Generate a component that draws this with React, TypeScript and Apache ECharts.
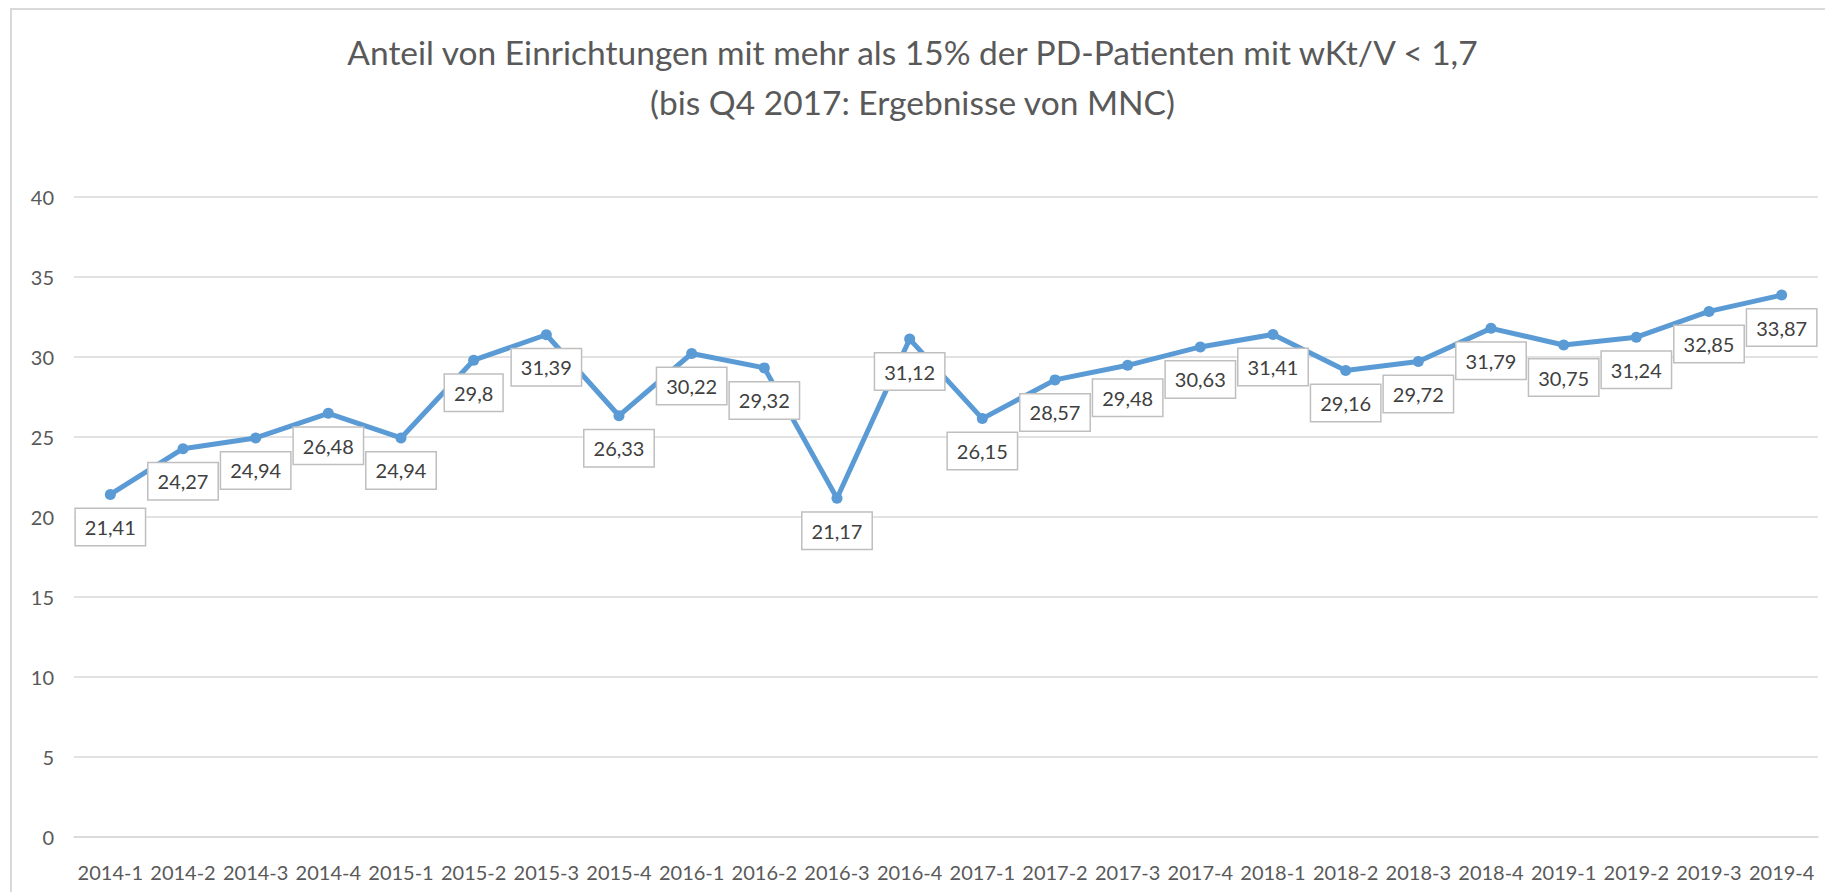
import React, { useEffect, useRef } from "react";
import * as echarts from "echarts";

const titleLines = [
  "Anteil von Einrichtungen mit mehr als 15% der PD-Patienten mit wKt/V < 1,7",
  "(bis Q4 2017: Ergebnisse von MNC)",
];

const categories = [
  "2014-1", "2014-2", "2014-3", "2014-4",
  "2015-1", "2015-2", "2015-3", "2015-4",
  "2016-1", "2016-2", "2016-3", "2016-4",
  "2017-1", "2017-2", "2017-3", "2017-4",
  "2018-1", "2018-2", "2018-3", "2018-4",
  "2019-1", "2019-2", "2019-3", "2019-4",
];

const values = [
  21.41, 24.27, 24.94, 26.48,
  24.94, 29.8, 31.39, 26.33,
  30.22, 29.32, 21.17, 31.12,
  26.15, 28.57, 29.48, 30.63,
  31.41, 29.16, 29.72, 31.79,
  30.75, 31.24, 32.85, 33.87,
];

const yMin = 0;
const yMax = 40;
const yInterval = 5;

const FONT = "Lato, 'Open Sans', 'Liberation Sans', sans-serif";

export default function App() {
  const ref = useRef<HTMLDivElement>(null);

  useEffect(() => {
    if (!ref.current) return;
    const chart = echarts.init(ref.current, undefined, { renderer: "svg" });
    chart.setOption({
      animation: false,
      backgroundColor: "#ffffff",
      textStyle: { fontFamily: FONT },
      title: {
        text: titleLines.join("\n"),
        left: "center",
        top: 22,
        textStyle: {
          fontFamily: FONT,
          fontSize: 33.5,
          lineHeight: 50,
          fontWeight: "normal",
          color: "#595959",
        },
      },
      graphic: [
        {
          type: "rect",
          shape: { x: 11, y: 9, width: 1830, height: 900 },
          style: { fill: "none", stroke: "#D9D9D9", lineWidth: 2 },
          silent: true,
        },
      ],
      grid: { left: 74, right: 7, top: 197, bottom: 55, containLabel: false },
      xAxis: {
        type: "category",
        data: categories,
        boundaryGap: true,
        axisLine: { show: true, lineStyle: { color: "#D9D9D9", width: 1.5 } },
        axisTick: { show: false },
        axisLabel: {
          interval: 0,
          margin: 25,
          fontFamily: FONT,
          fontSize: 20,
          color: "#595959",
        },
      },
      yAxis: {
        type: "value",
        min: yMin,
        max: yMax,
        interval: yInterval,
        axisLine: { show: false },
        axisTick: { show: false },
        splitLine: { lineStyle: { color: "#D9D9D9", width: 1.5 } },
        axisLabel: {
          margin: 20,
          fontFamily: FONT,
          fontSize: 20,
          color: "#595959",
        },
      },
      series: [
        {
          type: "line",
          data: values,
          symbol: "circle",
          symbolSize: 11,
          lineStyle: { color: "#5B9BD5", width: 5 },
          itemStyle: { color: "#5B9BD5" },
          label: {
            show: true,
            position: "bottom",
            distance: 9,
            formatter: (p: any) => String(p.value).replace(".", ","),
            fontFamily: FONT,
            fontSize: 20,
            lineHeight: 22,
            color: "#404040",
            backgroundColor: "#ffffff",
            borderColor: "#BFBFBF",
            borderWidth: 1.5,
            padding: [7, 9, 7, 9],
          },
        },
      ],
    });
    return () => chart.dispose();
  }, []);

  return (
    <div
      ref={ref}
      style={{ position: "fixed", left: 0, top: 0, width: 1825, height: 892 }}
    />
  );
}
